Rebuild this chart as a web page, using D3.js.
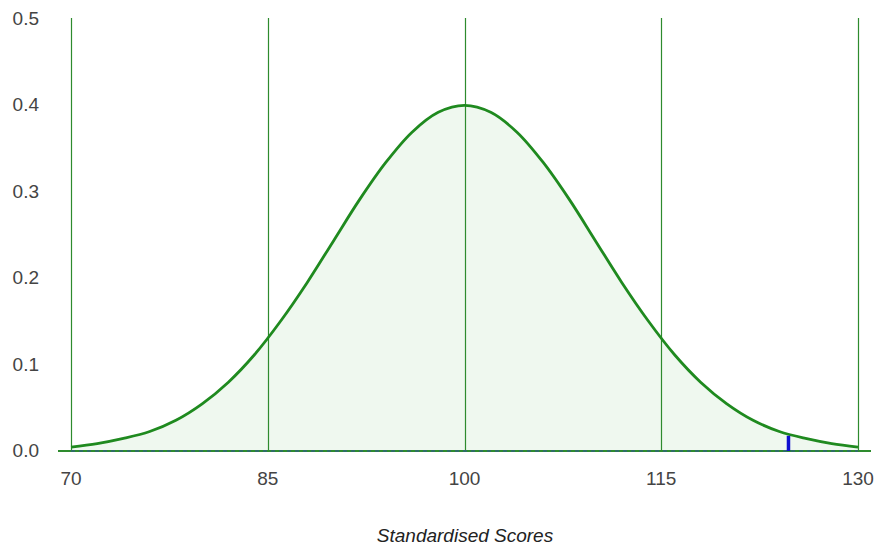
<!DOCTYPE html>
<html><head><meta charset="utf-8">
<script src="https://cdn.jsdelivr.net/npm/d3@7"></script>
<style>body{margin:0;background:#fff}svg{display:block}</style>
</head><body>
<svg id="c" width="875" height="546"></svg>
<script>
const xs = [70,72,74,76,78,80,82,84,86,88,90,92,94,96,98,100,102,104,106,108,110,112,114,116,118,120,122,124,126,128,130];
const ys = [0.004,0.008,0.014,0.022,0.035,0.054,0.079,0.111,0.150,0.194,0.242,0.290,0.333,0.368,0.391,0.399,0.391,0.368,0.333,0.290,0.242,0.194,0.150,0.111,0.079,0.054,0.035,0.022,0.014,0.008,0.004];
const xTicks = [70,85,100,115,130];
const yTicks = [0.0,0.1,0.2,0.3,0.4,0.5];
const markerX = [124.7];
const markerY = [0.017];
const xTitle = "Standardised Scores";

const svg = d3.select("#c");
const x = d3.scaleLinear().domain([70,130]).range([71,858]);
const y = d3.scaleLinear().domain([0,0.5]).range([450.5,18]);
const data = xs.map((v,i)=>({x:v,y:ys[i]}));
const green = "#1f8a1f";
const curve = d3.curveCatmullRom.alpha(0.5);

svg.append("path").datum(data)
  .attr("d", d3.area().x(d=>x(d.x)).y0(y(0)).y1(d=>y(d.y)).curve(curve))
  .attr("fill","#eff8ef");

svg.append("g").selectAll("line").data(xTicks).join("line")
  .attr("x1",d=>Math.round(x(d))+0.5).attr("x2",d=>Math.round(x(d))+0.5)
  .attr("y1",y(0.5)).attr("y2",y(0))
  .attr("stroke","#2e8b2e").attr("stroke-width",1.2);

svg.append("line").attr("x1",58).attr("x2",871).attr("y1",451).attr("y2",451)
  .attr("stroke","#2e8b2e").attr("stroke-width",2);
svg.append("line").attr("x1",x(70)).attr("x2",x(130)).attr("y1",451).attr("y2",451)
  .attr("stroke","#3050a0").attr("stroke-width",1).attr("stroke-dasharray","4,4");

svg.append("path").datum(data)
  .attr("d", d3.line().x(d=>x(d.x)).y(d=>y(d.y)).curve(curve))
  .attr("fill","none").attr("stroke",green).attr("stroke-width",2.8);

svg.append("g").selectAll("line").data(markerX).join("line")
  .attr("x1",d=>x(d)).attr("x2",d=>x(d))
  .attr("y1",(d,i)=>y(markerY[i])).attr("y2",451)
  .attr("stroke","#1010d0").attr("stroke-width",3.5);

svg.append("g").selectAll("text").data(yTicks).join("text")
  .attr("x",39).attr("y",d=>y(d)).attr("dy","0.35em")
  .attr("text-anchor","end").attr("fill","#444")
  .style("font","19px 'Liberation Sans', Arial, sans-serif")
  .text(d=>d3.format(".1f")(d));

svg.append("g").selectAll("text").data(xTicks).join("text")
  .attr("x",d=>x(d)).attr("y",478).attr("dy","0.35em")
  .attr("text-anchor","middle").attr("fill","#444")
  .style("font","19px 'Liberation Sans', Arial, sans-serif")
  .text(d=>d);

svg.append("text").attr("x",465).attr("y",535).attr("dy","0.35em")
  .attr("text-anchor","middle").attr("fill","#222")
  .style("font","italic 19px 'Liberation Sans', Arial, sans-serif")
  .text(xTitle);
</script>
</body></html>
